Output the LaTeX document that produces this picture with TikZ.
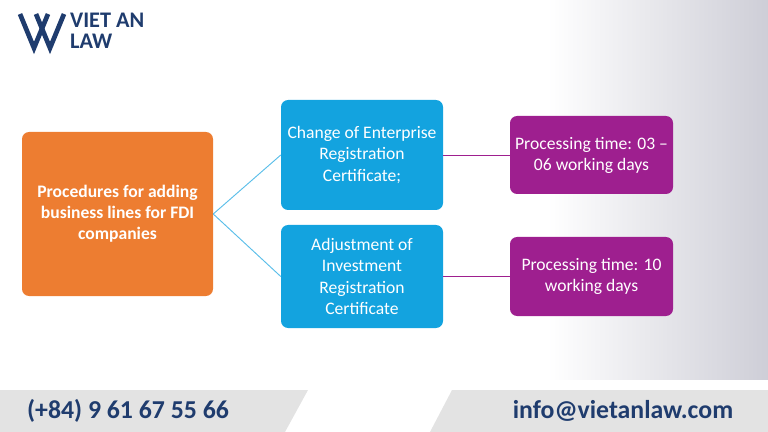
\documentclass[tikz,border=0pt]{standalone}
\usepackage{fontspec}
\setmainfont{Carlito}
\usetikzlibrary{positioning,fadings}
\definecolor{vorange}{HTML}{ED7D31}
\definecolor{vblue}{HTML}{13A3DF}
\definecolor{vpurple}{HTML}{9E1F8F}
\definecolor{vnavy}{HTML}{1F3C6E}
\definecolor{vgray}{HTML}{E3E3E3}
\begin{document}
\begin{tikzpicture}[x=0.03cm, y=-0.03cm,
    box/.style = {rounded corners=6pt, text=white, align=center, font=\fontsize{15}{18}\selectfont, inner sep=2pt},
    link/.style = {line width=0.8pt}]
	\useasboundingbox (0,0) rectangle (768,432);
	% building backdrop
	\fill[blue!10!gray!35, path fading=west] (548,0) rectangle (768,380);
	% logo
	\draw[vnavy, line width=4pt] (20,14) -- (34,48) -- (48,14);
	\draw[vnavy, line width=4pt] (36,14) -- (50,48) -- (64,14);
	\node[anchor=west, text=vnavy, font=\fontsize{19}{18}\selectfont\bfseries, align=left] (logo) at (66,31) {VIET AN\\LAW};
	% boxes
	\node[box, fill=vorange, minimum width=191*0.03cm, minimum height=164*0.03cm, font=\fontsize{15}{18}\selectfont\bfseries] (proc) at (117.5,214) {Procedures for adding\\business lines for FDI\\companies};
	\node[box, fill=vblue, minimum width=162*0.03cm, minimum height=110*0.03cm] (erc) at (362,155) {Change of Enterprise\\Registration\\Certificate;};
	\node[box, fill=vblue, minimum width=162*0.03cm, minimum height=103*0.03cm] (irc) at (362,276.5) {Adjustment of\\Investment\\Registration\\Certificate};
	\node[box, fill=vpurple, minimum width=163*0.03cm, minimum height=78*0.03cm] (time1) at (591.5,155) {Processing time: 03 --\\06 working days};
	\node[box, fill=vpurple, minimum width=163*0.03cm, minimum height=79*0.03cm] (time2) at (591.5,276.5) {Processing time: 10\\working days};
	% connectors
	\draw[link, vblue!70] (proc.east) -- (erc.west);
	\draw[link, vblue!70] (proc.east) -- (irc.west);
	\draw[link, vpurple] (erc.east) -- (time1.west);
	\draw[link, vpurple] (irc.east) -- (time2.west);
	% footer
	\fill[vgray] (0,390) -- (308,390) -- (285,432) -- (0,432) -- cycle;
	\fill[vgray] (452,390) -- (768,390) -- (768,432) -- (430,432) -- cycle;
	\node[text=vnavy, font=\fontsize{22}{22}\selectfont\bfseries] (phone) at (128,411) {(+84) 9 61 67 55 66};
	\node[text=vnavy, font=\fontsize{22}{22}\selectfont\bfseries] (mail) at (623,411) {info@vietanlaw.com};
\end{tikzpicture}
\end{document}
